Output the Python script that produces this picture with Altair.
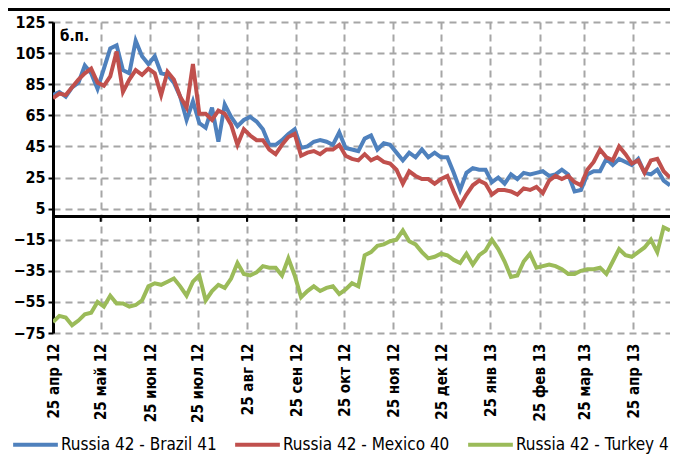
import altair as alt
import pandas as pd

# --- data, one value every 4 days from 25 Apr 2012 ---
start_date = "2012-04-25"
step_days = 4

brazil = [78, 80, 77, 83, 86, 97, 92, 82, 95, 108, 110, 94, 92, 113, 103, 98, 103, 92, 91, 86,
          77, 62, 74, 60, 57, 70, 48, 72, 64, 58, 62, 64, 61, 56, 46, 46, 49, 53, 56, 44,
          45, 48, 49, 48, 46, 54, 44, 43, 42, 50, 52, 43, 47, 46, 41, 36, 41, 38, 43, 38,
          41, 38, 38, 28, 17, 28, 31, 30, 30, 22, 25, 21, 27, 24, 28, 27, 28, 29, 26, 27,
          30, 27, 16, 17, 27, 29, 29, 37, 33, 37, 35, 33, 37, 28, 27, 30, 23, 20]
mexico = [76, 79, 78, 83, 88, 92, 95, 86, 84, 90, 106, 80, 88, 94, 91, 95, 92, 78, 93, 88,
          77, 70, 98, 66, 66, 62, 68, 66, 59, 46, 56, 52, 49, 49, 43, 40, 46, 51, 53, 39,
          41, 42, 40, 43, 43, 46, 39, 37, 36, 40, 36, 38, 35, 34, 30, 21, 29, 26, 24, 24,
          21, 24, 26, 16, 7, 14, 20, 23, 21, 14, 17, 17, 16, 14, 18, 17, 19, 15, 23, 26,
          24, 26, 22, 20, 30, 35, 43, 38, 36, 45, 40, 34, 36, 28, 36, 37, 29, 25]
turkey = [-68, -64, -65, -70, -67, -63, -62, -55, -58, -51, -56, -56, -58, -57, -54, -45, -43, -44, -42, -40,
          -45, -51, -42, -38, -54, -48, -44, -46, -40, -30, -37, -38, -36, -32, -33, -33, -38, -27, -38, -52,
          -48, -45, -48, -46, -45, -50, -47, -43, -45, -25, -23, -19, -18, -16, -15, -9, -16, -18, -23, -27,
          -26, -24, -25, -28, -30, -24, -31, -25, -22, -15, -21, -29, -39, -38, -29, -24, -33, -32, -31, -32,
          -34, -37, -37, -35, -34, -34, -33, -37, -29, -21, -25, -26, -23, -20, -15, -23, -7, -9]

series_names = ["Russia 42 - Brazil 41", "Russia 42 - Mexico 40", "Russia 42 - Turkey 41"]
series_colors = ["#4F81BD", "#C0504D", "#9BBB59"]

tick_dates = ["2012-04-25", "2012-05-25", "2012-06-25", "2012-07-25", "2012-08-25", "2012-09-25",
              "2012-10-25", "2012-11-25", "2012-12-25", "2013-01-25", "2013-02-25", "2013-03-25",
              "2013-04-25"]
month_names = ["янв", "фев", "мар", "апр", "май", "июн", "июл", "авг", "сен", "окт", "ноя", "дек"]
y_ticks = [-75, -55, -35, -15, 5, 25, 45, 65, 85, 105, 125]
unit_label = "б.п."

x_domain_end = "2013-05-18"

# --- build table ---
dates = pd.date_range(start_date, periods=len(brazil), freq=f"{step_days}D").strftime("%Y-%m-%d")
rows = []
for name, vals in zip(series_names, [brazil, mexico, turkey]):
    for d, v in zip(dates, vals):
        rows.append({"date": d, "value": v, "series": name})
df = pd.DataFrame(rows)
ticks_df = pd.DataFrame({"date": tick_dates})

FONT = "Liberation Sans Narrow, DejaVu Sans Condensed, sans-serif"

def to_dt(s):
    y, m, d = map(int, s.split("-"))
    return alt.DateTime(year=y, month=m, date=d, utc=True)

months_js = "[" + ",".join(f"'{m}'" for m in month_names) + "]"
label_expr = "'25 ' + " + months_js + "[utcmonth(datum.value)] + ' ' + utcFormat(datum.value, '%y')"

x_scale = alt.Scale(type="utc", domain=[to_dt(start_date), to_dt(x_domain_end)], nice=False)
y_scale = alt.Scale(domain=[-75, 125], nice=False, zero=False)

x_axis = alt.Axis(values=[to_dt(t) for t in tick_dates], tickCount=len(tick_dates) + 2,
                  labelExpr=label_expr,
                  labelAngle=-90, labelPadding=10, labelFontSize=15, labelFont=FONT,
                  labelColor="#000000", labelFontWeight="bold",
                  domain=False, ticks=False, grid=True, gridColor="#A6A6A6",
                  gridDash=[7, 5], gridWidth=2, labelOverlap=False)
y_axis = alt.Axis(values=y_ticks, tickCount=len(y_ticks) + 2, labelFontSize=16, labelFont=FONT,
                  labelColor="#000000",
                  labelFontWeight="bold", labelOverlap=False,
                  domainColor="#000000", domainWidth=3, tickColor="#000000", tickWidth=2,
                  tickSize=5, labelPadding=3, grid=True, gridColor="#A6A6A6",
                  gridDash=[7, 5], gridWidth=2)

lines = alt.Chart(df).mark_line(strokeWidth=4, clip=True).encode(
    x=alt.X("date:T", scale=x_scale, title=None, axis=x_axis),
    y=alt.Y("value:Q", scale=y_scale, title=None, axis=y_axis),
    color=alt.Color("series:N", scale=alt.Scale(domain=series_names, range=series_colors),
                    legend=alt.Legend(title=None, orient="none", legendX=-42, legendY=398,
                                      direction="horizontal", symbolType="stroke",
                                      symbolSize=2000, symbolStrokeWidth=4,
                                      labelFontSize=17, labelFont=FONT, labelColor="#000000",
                                      labelLimit=300, columnPadding=10, labelOffset=1)),
)

zero_df = pd.DataFrame({"v": [0]})
zero_rule = alt.Chart(zero_df).mark_rule(color="#000000", strokeWidth=3).encode(
    y=alt.Y("v:Q", scale=y_scale, title=None, axis=y_axis))

zero_ticks = alt.Chart(ticks_df).mark_rule(color="#000000", strokeWidth=2).encode(
    x=alt.X("date:T", scale=x_scale, title=None, axis=x_axis),
    y=alt.datum(0),
    y2=alt.datum(-3.5),
)

top_bar = alt.Chart(zero_df).mark_rect(color="#000000").encode(
    x=alt.value(-45), x2=alt.value(640), y=alt.value(-14), y2=alt.value(-11))

unit_text = alt.Chart(zero_df).mark_text(text=unit_label, font=FONT, fontSize=15, fontWeight="bold",
                                         align="left", baseline="middle", color="#000000").encode(
    x=alt.value(7), y=alt.value(14))

chart = alt.layer(lines, zero_rule, zero_ticks, top_bar, unit_text).properties(
    width=617, height=311,
    autosize=alt.AutoSizeParams(type="none"),
    padding={"left": 45, "top": 14, "right": 0, "bottom": 122},
).configure_view(stroke=None).configure_axis(labelFont=FONT)

chart.save("out.html", embed_options={"renderer": "svg", "actions": False})
